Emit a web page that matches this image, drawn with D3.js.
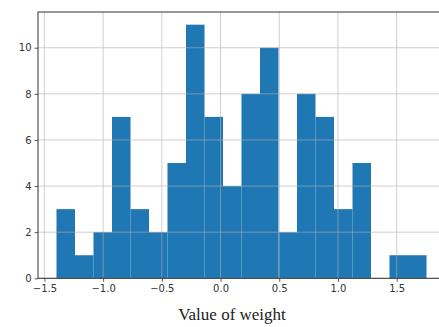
<!DOCTYPE html>
<html>
<head>
<meta charset="utf-8">
<script src="https://cdn.jsdelivr.net/npm/d3@7"></script>
<style>
  html, body { margin: 0; padding: 0; background: #fff; }
  svg { display: block; }
</style>
</head>
<body>
<div id="chart"></div>
<script>
// histogram of weights: 20 bins between the smallest and largest value
const binMin = -1.397;
const binMax = 1.754;
const counts = [3, 1, 2, 7, 3, 2, 5, 11, 7, 4, 8, 10, 2, 8, 7, 3, 5, 0, 1, 1];
const xTicks = [-1.5, -1.0, -0.5, 0.0, 0.5, 1.0, 1.5];
const yTicks = [0, 2, 4, 6, 8, 10];
const xLabel = "Value of weight";

const width = 439, height = 327;
const margin = {top: 12, right: -6, bottom: 48.7, left: 38};

const svg = d3.select("#chart").append("svg")
  .attr("width", width)
  .attr("height", height);

const binW = (binMax - binMin) / counts.length;
const bins = counts.map((c, i) => ({x0: binMin + i * binW, x1: binMin + (i + 1) * binW, n: c}));

// matplotlib style 5% margins
const pad = (binMax - binMin) * 0.05;
const x = d3.scaleLinear()
  .domain([binMin - pad, binMax + pad])
  .range([margin.left, width - margin.right]);
const y = d3.scaleLinear()
  .domain([0, d3.max(counts) * 1.05])
  .range([height - margin.bottom, margin.top]);

// bars
svg.append("g")
  .selectAll("rect")
  .data(bins)
  .join("rect")
  .attr("x", d => x(d.x0))
  .attr("width", d => x(d.x1) - x(d.x0))
  .attr("y", d => y(d.n))
  .attr("height", d => y(0) - y(d.n))
  .attr("fill", "#1f77b4");

// grid lines (drawn above the bars, like matplotlib)
const grid = svg.append("g")
  .attr("stroke", "#b0b0b0")
  .attr("stroke-width", 0.8)
  .attr("opacity", 0.75);
grid.selectAll(".gx")
  .data(xTicks)
  .join("line")
  .attr("x1", d => x(d)).attr("x2", d => x(d))
  .attr("y1", y.range()[0]).attr("y2", y.range()[1]);
grid.selectAll(".gy")
  .data(yTicks)
  .join("line")
  .attr("x1", x.range()[0]).attr("x2", x.range()[1])
  .attr("y1", d => y(d)).attr("y2", d => y(d));

const fmt = d => d3.format(".1f")(d).replace("-", "\u2212");

// axes
const xAxis = svg.append("g")
  .attr("transform", "translate(0," + y(0) + ")")
  .call(d3.axisBottom(x).tickValues(xTicks).tickFormat(fmt).tickSizeOuter(0).tickSize(3.5).tickPadding(3));
const yAxis = svg.append("g")
  .attr("transform", "translate(" + x.range()[0] + ",0)")
  .call(d3.axisLeft(y).tickValues(yTicks).tickFormat(d3.format("d")).tickSizeOuter(0).tickSize(3.5).tickPadding(3));

[xAxis, yAxis].forEach(a => {
  a.selectAll("text")
    .attr("font-family", "DejaVu Sans, sans-serif")
    .attr("font-size", 10)
    .attr("fill", "#333");
  a.selectAll("line").attr("stroke", "#333").attr("stroke-width", 0.8);
  a.select(".domain").remove();
});

// spines
svg.append("rect")
  .attr("x", x.range()[0])
  .attr("y", y.range()[1])
  .attr("width", x.range()[1] - x.range()[0])
  .attr("height", y.range()[0] - y.range()[1])
  .attr("fill", "none")
  .attr("stroke", "#333")
  .attr("stroke-width", 1);

// x axis title
svg.append("text")
  .attr("x", 232)
  .attr("y", 320)
  .attr("text-anchor", "middle")
  .attr("font-family", "Liberation Serif, Times New Roman, serif")
  .attr("font-size", 17)
  .attr("fill", "#222")
  .text(xLabel);
</script>
</body>
</html>
